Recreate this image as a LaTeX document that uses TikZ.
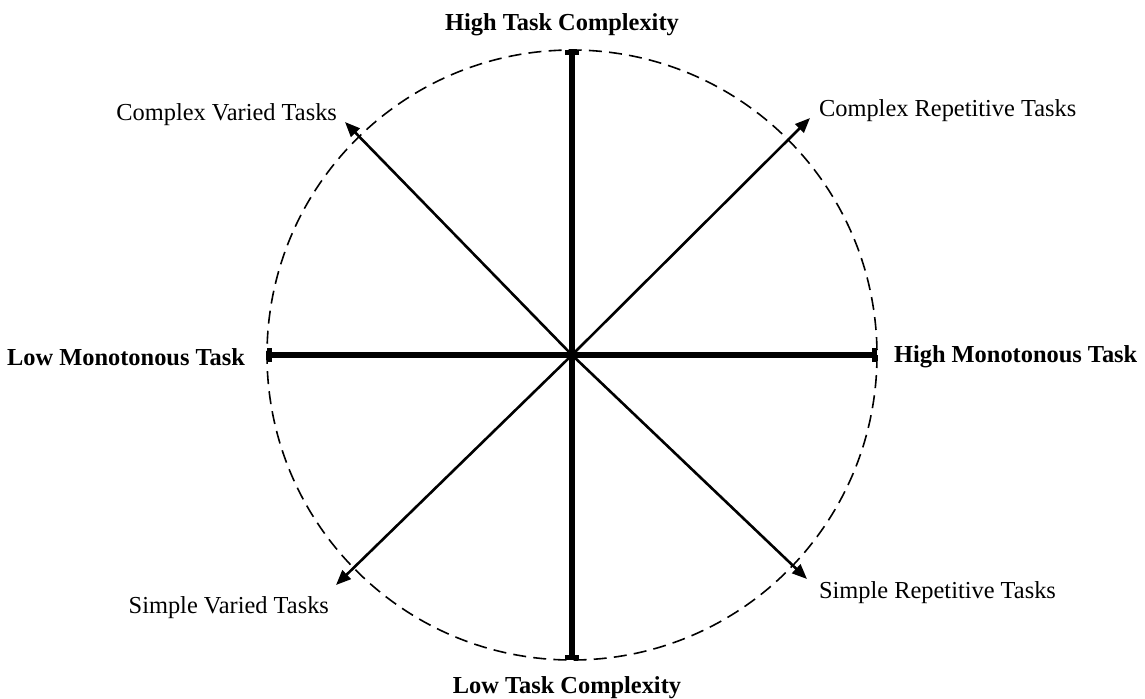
\documentclass[tikz,border=0pt]{standalone}
\usepackage{fontspec}
\setmainfont{Liberation Serif}
\usetikzlibrary{arrows.meta}

\begin{document}
\begin{tikzpicture}[x=0.5pt,y=-0.5pt,
  axis/.style={line width=2.6pt,{Bar[width=7pt]}-{Bar[width=7pt]}},
  task/.style={line width=1.3pt,-{Triangle[length=7.5pt,width=6pt]}},
  lbl/.style={font=\fontsize{12.2}{14}\selectfont},
  blbl/.style={font=\fontsize{12.2}{14}\selectfont\bfseries}]
  \useasboundingbox (0,0) rectangle (1145,698);
  \coordinate (O) at (572,355);
  % rim of the circle
  \draw[line width=0.8pt,dash pattern=on 6.5pt off 3.6pt] (O) circle (305);
  % end points
  \coordinate (N) at (572,50);
  \coordinate (S) at (572,660);
  \coordinate (W) at (267,355);
  \coordinate (E) at (877,355);
  \coordinate (NW) at (345,122);
  \coordinate (NE) at (810,118);
  \coordinate (SW) at (336,585);
  \coordinate (SE) at (807,579);
  \draw[task] (O) -- (NW);
  \draw[task] (O) -- (NE);
  \draw[task] (O) -- (SW);
  \draw[task] (O) -- (SE);
  \draw[axis] (N) -- (S);
  \draw[axis] (W) -- (E);
  % labels
  \node[blbl] (hc) at (562,25) {High Task Complexity};
  \node[blbl] (lc) at (567,688) {Low Task Complexity};
  \node[blbl,anchor=east] (lm) at (252,357) {Low Monotonous Task};
  \node[blbl,anchor=west] (hm) at (887,357) {High Monotonous Task};
  \node[lbl,anchor=east] (cv) at (344,115) {Complex Varied Tasks};
  \node[lbl,anchor=west] (cr) at (812,111) {Complex Repetitive Tasks};
  \node[lbl,anchor=east] (sv) at (336,608) {Simple Varied Tasks};
  \node[lbl,anchor=west] (sr) at (812,593) {Simple Repetitive Tasks};
\end{tikzpicture}
\end{document}
